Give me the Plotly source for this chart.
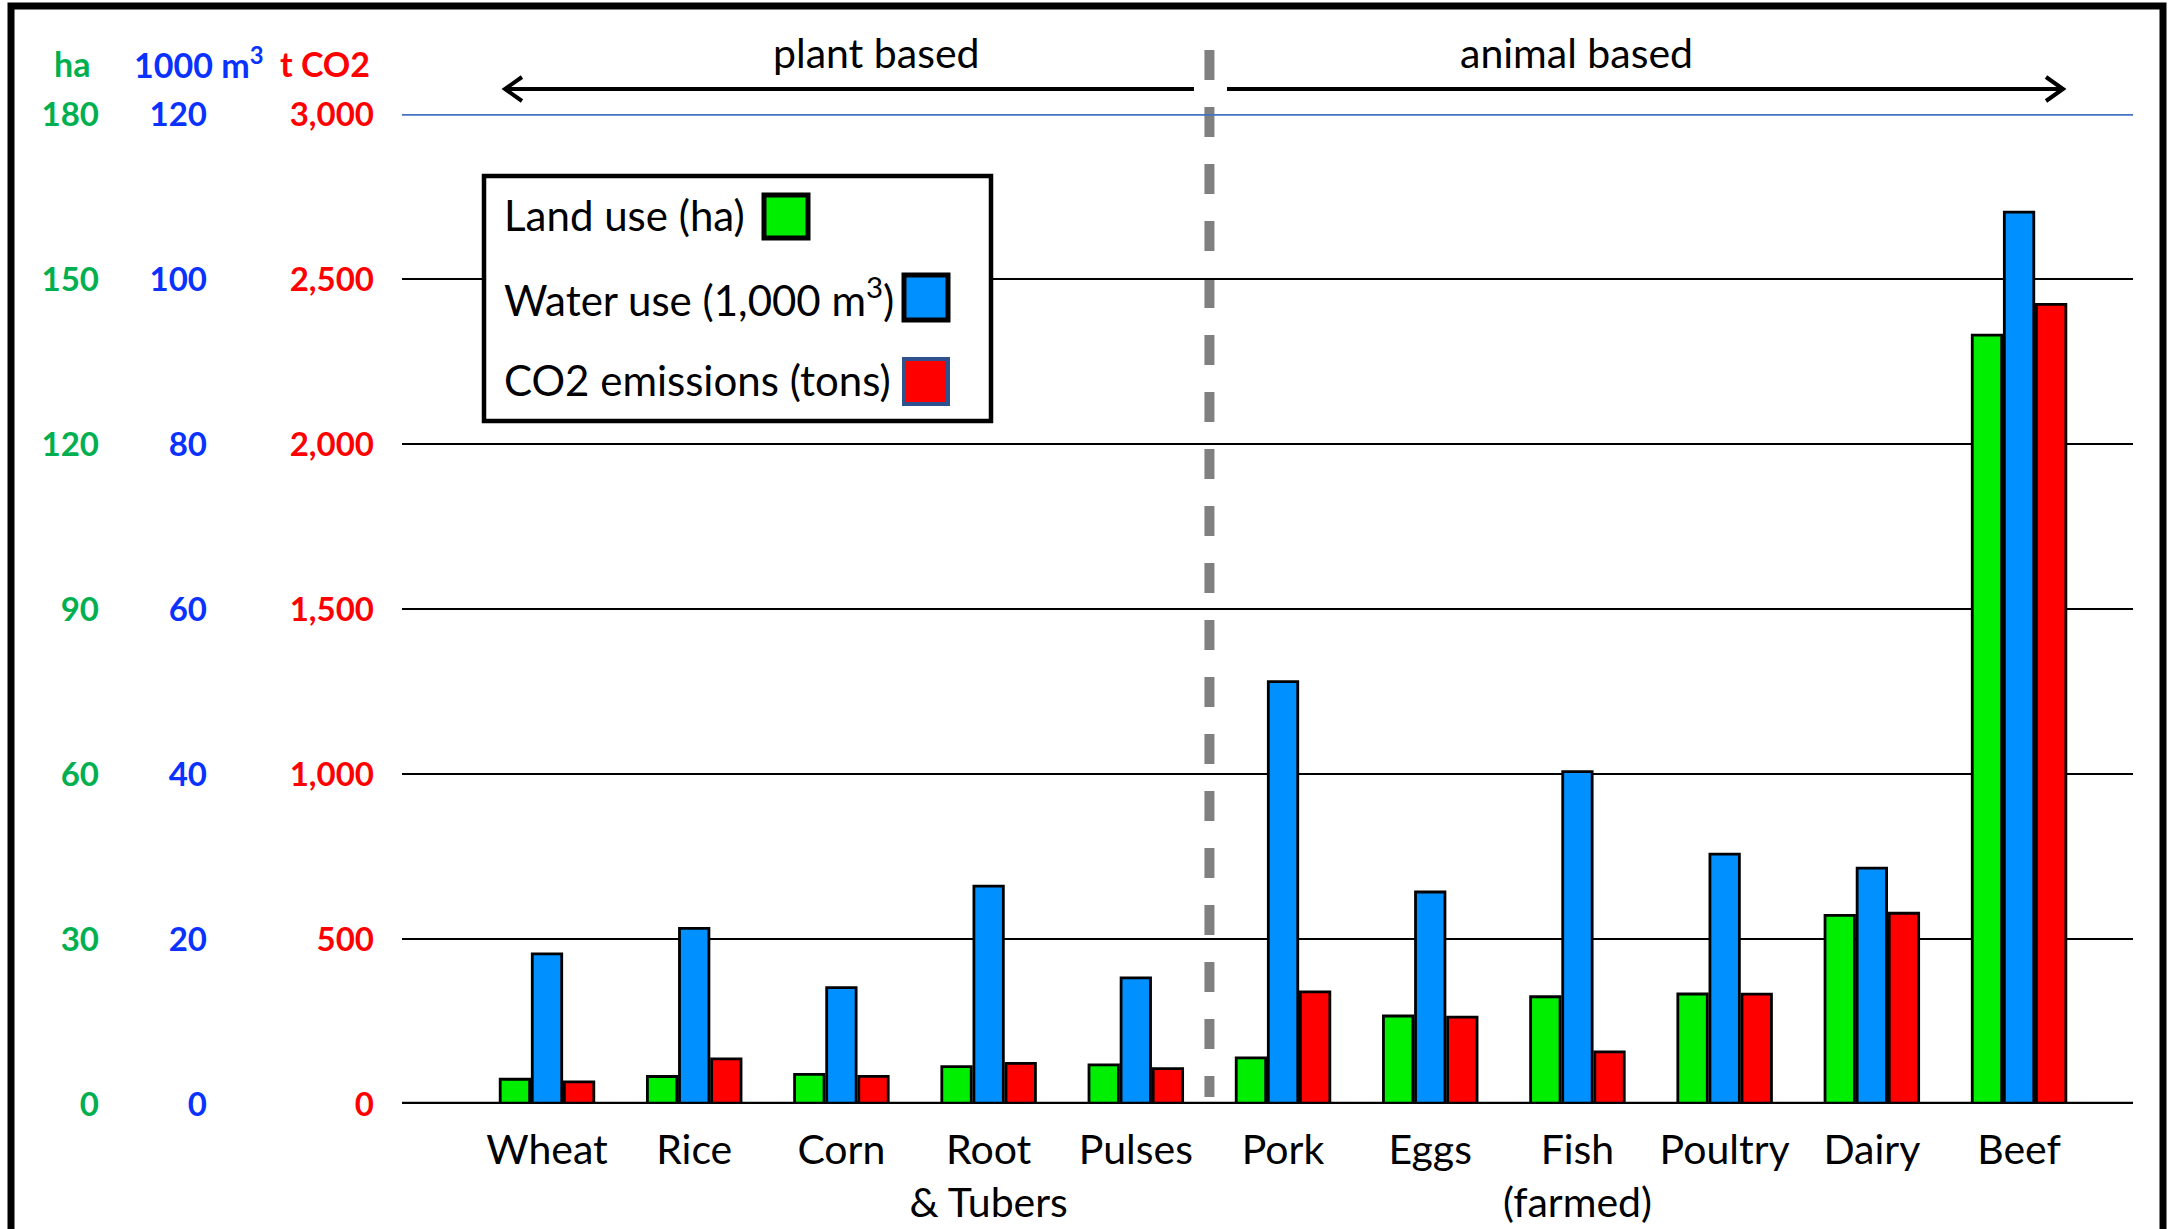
import plotly.graph_objects as go

# ---------------- data ----------------
categories = ["Wheat", "Rice", "Corn", "Root & Tubers", "Pulses", "Pork",
              "Eggs", "Fish (farmed)", "Poultry", "Dairy", "Beef"]
category_labels = ["Wheat", "Rice", "Corn", "Root<br>& Tubers", "Pulses", "Pork",
                   "Eggs", "Fish<br>(farmed)", "Poultry", "Dairy", "Beef"]
land_ha = [4.5, 5.0, 5.4, 6.8, 7.1, 8.4, 16.0, 19.5, 20.0, 34.3, 139.8]
water_1000m3 = [18.2, 21.3, 14.1, 26.4, 15.3, 51.2, 25.7, 40.3, 30.3, 28.6, 108.1]
co2_t = [67, 137, 84, 123, 107, 340, 263, 158, 333, 578, 2423]

ha_ticks = [0, 30, 60, 90, 120, 150, 180]
water_ticks = [0, 20, 40, 60, 80, 100, 120]
co2_ticks = [0, 500, 1000, 1500, 2000, 2500, 3000]

# ---------------- layout helpers ----------------
W, H = 2177, 1229
ML, MR, MT, MB = 0, 44, 114, 125
PW = W - ML - MR
PH = H - MT - MB
PLOT_LEFT = 402


def px(x):
    return (x - ML) / PW


def py(y):
    return (H - MB - y) / PH


FONT = "Lato, Carlito, Calibri, 'Open Sans', sans-serif"
GREEN_T = "#00B050"
BLUE_T = "#0A32FF"
RED_T = "#FF0000"

fig = go.Figure()

fig.add_trace(go.Bar(x=categories, y=land_ha, yaxis="y3", name="Land use (ha)",
                     width=0.2, offset=-0.318,
                     marker=dict(color="#00EE00", line=dict(color="black", width=2.8))))
fig.add_trace(go.Bar(x=categories, y=water_1000m3, yaxis="y2", name="Water use (1,000 m³)",
                     width=0.2, offset=-0.1,
                     marker=dict(color="#0090FF", line=dict(color="black", width=2.8))))
fig.add_trace(go.Bar(x=categories, y=co2_t, yaxis="y", name="CO2 emissions (tons)",
                     width=0.2, offset=0.118,
                     marker=dict(color="#FF0000", line=dict(color="black", width=2.8))))

tickfont_common = dict(family=FONT, size=33)

fig.update_layout(
    width=W, height=H,
    margin=dict(l=ML, r=MR, t=MT, b=MB, autoexpand=False),
    paper_bgcolor="white", plot_bgcolor="white",
    showlegend=False,
    barmode="overlay",
    xaxis=dict(
        domain=[px(PLOT_LEFT), 1], range=[-0.985, 10.774],
        type="category", tickmode="array", tickvals=categories, ticktext=category_labels,
        tickfont=dict(family=FONT, size=41, color="black"),
        showgrid=False, showline=False, zeroline=False, ticks="",
        ticklabelstandoff=18, anchor="y", automargin=False,
    ),
    yaxis=dict(
        range=[0, 3000], tickmode="array", tickvals=co2_ticks,
        ticktext=[f"<b>{v:,}</b>" for v in co2_ticks],
        tickfont=dict(color=RED_T, **tickfont_common),
        showgrid=True, gridcolor="black", gridwidth=2.2,
        zeroline=False, showline=False, ticks="",
        anchor="free", position=px(374), automargin=False,
    ),
    yaxis2=dict(
        range=[0, 120], tickmode="array", tickvals=water_ticks,
        ticktext=[f"<b>{v}</b>" for v in water_ticks],
        tickfont=dict(color=BLUE_T, **tickfont_common),
        showgrid=False, zeroline=False, showline=False, ticks="",
        overlaying="y", anchor="free", position=px(207), side="left", automargin=False,
    ),
    yaxis3=dict(
        range=[0, 180], tickmode="array", tickvals=ha_ticks,
        ticktext=[f"<b>{v}</b>" for v in ha_ticks],
        tickfont=dict(color=GREEN_T, **tickfont_common),
        showgrid=False, zeroline=False, showline=False, ticks="",
        overlaying="y", anchor="free", position=px(99), side="left", automargin=False,
    ),
)

shapes = []
# outer frame
shapes.append(dict(type="rect", xref="paper", yref="paper",
                   x0=px(11), x1=px(2163), y0=py(6), y1=py(1260),
                   line=dict(color="black", width=7), fillcolor="rgba(0,0,0,0)", layer="above"))
# top blue line at 3000
shapes.append(dict(type="line", xref="x domain", yref="y", x0=0, x1=1, y0=3000, y1=3000,
                   line=dict(color="#4472C4", width=3.5), layer="above"))
# baseline
shapes.append(dict(type="line", xref="x domain", yref="y", x0=0, x1=1, y0=0, y1=0,
                   line=dict(color="black", width=4.5), layer="above"))
# dashed divider between plant and animal based
shapes.append(dict(type="line", xref="x", yref="paper", x0=4.5, x1=4.5,
                   y0=py(50), y1=py(1097),
                   line=dict(color="#808080", width=10, dash="30px,27px"), layer="below"))
# arrows
ARROW_Y = 89
shapes.append(dict(type="line", xref="paper", yref="paper", x0=px(505), x1=px(1194),
                   y0=py(ARROW_Y), y1=py(ARROW_Y), line=dict(color="black", width=4)))
shapes.append(dict(type="line", xref="paper", yref="paper", x0=px(1227), x1=px(2063),
                   y0=py(ARROW_Y), y1=py(ARROW_Y), line=dict(color="black", width=4)))
shapes.append(dict(type="path", xref="paper", yref="paper",
                   path=f"M {px(522)},{py(ARROW_Y-12)} L {px(505)},{py(ARROW_Y)} L {px(522)},{py(ARROW_Y+12)}",
                   line=dict(color="black", width=4)))
shapes.append(dict(type="path", xref="paper", yref="paper",
                   path=f"M {px(2046)},{py(ARROW_Y-12)} L {px(2063)},{py(ARROW_Y)} L {px(2046)},{py(ARROW_Y+12)}",
                   line=dict(color="black", width=4)))
# legend box
shapes.append(dict(type="rect", xref="paper", yref="paper",
                   x0=px(484), x1=px(991), y0=py(176), y1=py(421),
                   line=dict(color="black", width=4.5), fillcolor="white", layer="above"))
# legend swatches
shapes.append(dict(type="rect", xref="paper", yref="paper",
                   x0=px(764), x1=px(808), y0=py(195), y1=py(238),
                   line=dict(color="black", width=5), fillcolor="#00EE00", layer="above"))
shapes.append(dict(type="rect", xref="paper", yref="paper",
                   x0=px(904), x1=px(948), y0=py(275), y1=py(320),
                   line=dict(color="black", width=5), fillcolor="#0090FF", layer="above"))
shapes.append(dict(type="rect", xref="paper", yref="paper",
                   x0=px(904), x1=px(948), y0=py(359), y1=py(404),
                   line=dict(color="#2F528F", width=4), fillcolor="#FF0000", layer="above"))
fig.update_layout(shapes=shapes)

ann = []


def add_text(text, x, y, xanchor="center", size=40, color="black"):
    ann.append(dict(text=text, x=px(x), y=py(y), xref="paper", yref="paper",
                    xanchor=xanchor, yanchor="middle", showarrow=False,
                    font=dict(family=FONT, size=size, color=color)))


# axis headers
add_text("<b>ha</b>", 72, 63, size=34, color=GREEN_T)
add_text("<b>1000 m<sup>3</sup></b>", 198, 63, size=34, color=BLUE_T)
add_text("<b>t CO2</b>", 372, 63, xanchor="right", size=34, color=RED_T)
# group labels
add_text("plant based", 876, 53, size=41)
add_text("animal based", 1576, 53, size=41)
# legend text
add_text("Land use (ha)", 502, 215, xanchor="left", size=42)
add_text("Water use (1,000 m<sup>3</sup>)", 502, 297, xanchor="left", size=42)
add_text("CO2 emissions (tons)", 502, 380, xanchor="left", size=42)

fig.update_layout(annotations=ann)

fig.write_html("out.html",
               config={"displayModeBar": False},
               post_script="document.body.style.margin='0';document.body.style.overflow='hidden';")
